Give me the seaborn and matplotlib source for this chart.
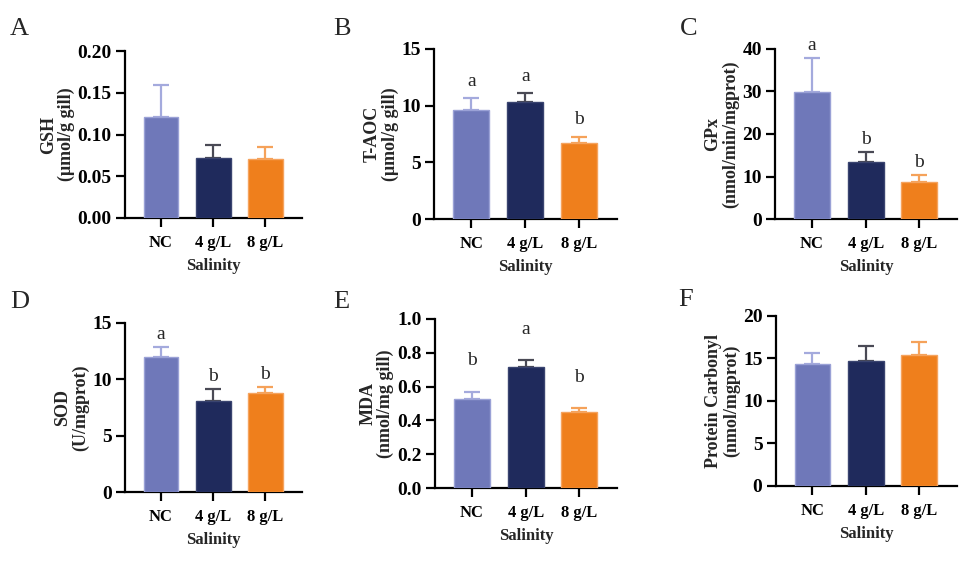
import numpy as np
import pandas as pd
import matplotlib
matplotlib.use("Agg")
import matplotlib.pyplot as plt
import seaborn as sns

sns.set_theme(style="ticks")
plt.rcParams['font.family'] = ['Liberation Serif', 'DejaVu Serif']
plt.rcParams['font.weight'] = 'bold'

groups = ["NC", "4 g/L", "8 g/L"]

gsh_mean = [0.121, 0.072, 0.071]
gsh_err = [0.038, 0.015, 0.014]
gsh_letters = None

taoc_mean = [9.6, 10.3, 6.7]
taoc_err = [1.05, 0.83, 0.56]
taoc_letters = ["a", "a", "b"]

gpx_mean = [29.9, 13.5, 8.7]
gpx_err = [8.0, 2.2, 1.6]
gpx_letters = ["a", "b", "b"]

sod_mean = [11.95, 8.1, 8.8]
sod_err = [0.9, 1.0, 0.48]
sod_letters = ["a", "b", "b"]

mda_mean = [0.525, 0.715, 0.452]
mda_err = [0.046, 0.04, 0.02]
mda_letters = ["b", "a", "b"]

pc_mean = [14.35, 14.7, 15.45]
pc_err = [1.3, 1.75, 1.5]
pc_letters = None

bar_colors = ["#6f78b9", "#1f2a5c", "#ef7f1c"]
edge_colors = ["#9aa1d6", "#3a4470", "#f5a35e"]
err_colors = ["#a4aadd", "#4a4a55", "#f5a25a"]

panels = [
    dict(tag="A", mean=gsh_mean, err=gsh_err, letters=gsh_letters,
         ylabel="GSH\n(μmol/g gill)", ticks=[0, 0.05, 0.10, 0.15, 0.20], fmt="{:.2f}",
         pos=[0.1286, 0.6128, 0.182, 0.2966], lpos=(0.0103, 0.9378), loff=0),
    dict(tag="B", mean=taoc_mean, err=taoc_err, letters=taoc_letters,
         ylabel="T-AOC\n(μmol/g gill)", ticks=[0, 5, 10, 15], fmt="{:.0f}",
         pos=[0.4465, 0.611, 0.1883, 0.302], lpos=(0.3426, 0.9378), loff=6),
    dict(tag="C", mean=gpx_mean, err=gpx_err, letters=gpx_letters,
         ylabel="GPx\n(nmol/min/mgprot)", ticks=[0, 10, 20, 30, 40], fmt="{:.0f}",
         pos=[0.7973, 0.611, 0.1872, 0.302], lpos=(0.6996, 0.9378), loff=3),
    dict(tag="D", mean=sod_mean, err=sod_err, letters=sod_letters,
         ylabel="SOD\n(U/mgprot)", ticks=[0, 5, 10, 15], fmt="{:.0f}",
         pos=[0.1286, 0.1261, 0.182, 0.3002], lpos=(0.0103, 0.453), loff=3),
    dict(tag="E", mean=mda_mean, err=mda_err, letters=mda_letters,
         ylabel="MDA\n(nmol/mg gill)", ticks=[0, 0.2, 0.4, 0.6, 0.8, 1.0], fmt="{:.1f}",
         pos=[0.4475, 0.1332, 0.1872, 0.3002], lpos=(0.3426, 0.453), loff=16),
    dict(tag="F", mean=pc_mean, err=pc_err, letters=pc_letters,
         ylabel="Protein Carbonyl\n(nmol/mgprot)", ticks=[0, 5, 10, 15, 20], fmt="{:.0f}",
         pos=[0.798, 0.1368, 0.1862, 0.302], lpos=(0.6976, 0.4565), loff=0),
]

fig = plt.figure(figsize=(9.72, 5.63), dpi=100)

for p in panels:
    ax = fig.add_axes(p["pos"])
    df = pd.DataFrame({"Salinity": groups, "value": p["mean"]})
    sns.barplot(data=df, x="Salinity", y="value", hue="Salinity", palette=bar_colors,
                hue_order=groups, order=groups, legend=False, errorbar=None,
                width=0.67, saturation=1, ax=ax, zorder=3)
    for i, patch in enumerate(ax.patches):
        patch.set_edgecolor(edge_colors[i])
        patch.set_linewidth(1.0)
    for i, (m, e) in enumerate(zip(p["mean"], p["err"])):
        ax.errorbar(i, m, yerr=[[0], [e]], fmt="none", ecolor=err_colors[i],
                    elinewidth=1.6, capsize=6, capthick=1.6, zorder=2)
    if p["letters"]:
        for i, (m, e, l) in enumerate(zip(p["mean"], p["err"], p["letters"])):
            ax.annotate(l, xy=(i, m + e), xytext=(0, p["loff"]), textcoords="offset points",
                        ha="center", va="bottom", fontsize=14, fontweight="normal")
    ax.set_xlim(-0.69, 2.7)
    ax.set_ylim(p["ticks"][0], p["ticks"][-1])
    ax.set_yticks(p["ticks"])
    ax.set_yticklabels([p["fmt"].format(t) for t in p["ticks"]])
    ax.set_ylabel(p["ylabel"], fontsize=13, fontweight="bold", labelpad=2, linespacing=1.05)
    ax.set_xlabel("Salinity", fontsize=12, fontweight="bold", labelpad=5)
    sns.despine(ax=ax)
    for s in ["left", "bottom"]:
        ax.spines[s].set_linewidth(1.6)
        ax.spines[s].set_color("black")
    ax.tick_params(axis="both", width=1.6, length=6.5, colors="black", pad=3)
    ax.tick_params(axis="x", labelsize=12, pad=5.5)
    ax.tick_params(axis="y", labelsize=14)
    for lab in ax.get_xticklabels() + ax.get_yticklabels():
        lab.set_fontweight("bold")
    fig.text(p["lpos"][0], p["lpos"][1], p["tag"], fontsize=19, fontweight="normal",
             va="baseline", ha="left")

fig.savefig("out.png", dpi=100, facecolor="white")
